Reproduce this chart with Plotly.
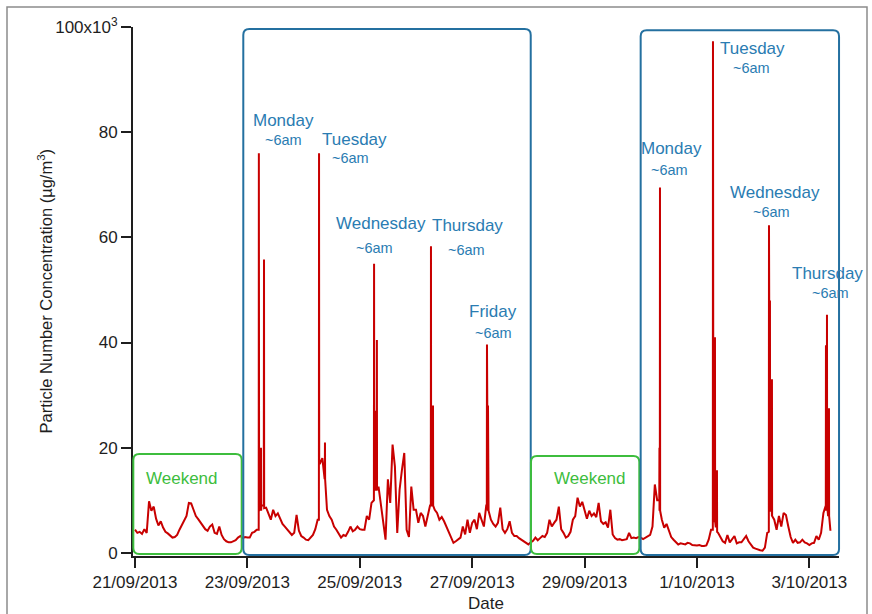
import pandas as pd
import plotly.graph_objects as go

# ---------------- data (particle number concentration, x10^3) ----------------
# hourly background readings, one list per day
start_time = "2013-09-21 00:00"
d21 = [4.4, 3.8, 4.0, 3.6, 4.5, 3.8, 9.8, 8.0, 8.8, 6.5, 5.2, 6.0, 4.8, 4.0, 3.7, 3.3, 2.9, 3.0, 3.4, 4.4, 5.2, 6.0, 7.0, 9.5]
d22 = [9.4, 8.2, 7.0, 6.4, 5.8, 5.0, 4.5, 4.2, 5.0, 5.4, 3.8, 3.6, 5.0, 3.4, 2.6, 2.2, 2.0, 2.0, 2.2, 2.4, 2.9, 3.2, 2.8, 3.0]
d23 = [2.9, 2.9, 3.8, 4.0, 4.4, 8.0, 9.0, 9.0, 8.6, 7.5, 6.3, 8.2, 7.0, 7.5, 6.3, 5.5, 5.0, 4.4, 4.0, 3.4, 3.8, 7.2, 4.2, 3.2]
d24 = [2.9, 2.5, 2.4, 2.9, 3.4, 4.5, 6.3, 17.0, 18.0, 14.0, 8.2, 7.0, 6.3, 5.0, 4.4, 3.6, 2.9, 3.4, 3.2, 4.0, 5.0, 4.1, 4.4, 5.0]
d25 = [4.5, 4.4, 4.4, 7.0, 6.3, 9.5, 10.0, 12.0, 12.6, 9.5, 6.3, 2.5, 14.0, 9.5, 20.6, 16.4, 3.8, 12.0, 15.8, 19.0, 4.4, 3.0, 12.6, 8.2]
d26 = [8.2, 5.7, 7.6, 7.0, 5.0, 7.0, 9.0, 9.0, 8.2, 7.6, 6.3, 6.8, 6.0, 5.0, 4.0, 3.2, 1.9, 2.2, 2.5, 2.9, 5.0, 3.5, 6.3, 3.8]
d27 = [5.7, 6.3, 4.5, 7.6, 6.3, 5.0, 9.0, 8.0, 6.3, 5.5, 5.0, 5.7, 8.6, 4.5, 3.8, 4.5, 6.0, 3.8, 3.2, 3.2, 2.8, 2.5, 2.2, 1.8]
d28 = [1.6, 2.0, 2.3, 2.9, 2.4, 2.8, 3.2, 3.0, 3.8, 6.3, 5.0, 5.7, 6.3, 8.8, 4.5, 3.8, 2.9, 3.2, 4.0, 6.3, 7.0, 10.5, 8.8, 9.7]
d29 = [8.2, 6.5, 8.0, 7.0, 7.5, 6.8, 9.5, 6.0, 5.5, 5.8, 4.8, 8.2, 3.5, 2.8, 2.5, 2.6, 2.4, 2.5, 2.6, 3.8, 2.8, 2.9, 2.8, 3.0]
d30 = [2.9, 2.6, 2.9, 3.2, 3.4, 5.0, 13.0, 10.0, 8.0, 6.3, 4.8, 5.5, 4.0, 3.0, 2.5, 2.0, 1.6, 1.8, 1.7, 1.6, 1.9, 1.8, 1.5, 1.4]
d01 = [1.4, 1.5, 1.3, 1.3, 1.4, 2.5, 4.4, 6.0, 5.0, 3.8, 3.0, 2.2, 1.9, 3.4, 2.0, 2.6, 3.2, 1.8, 2.0, 2.0, 2.5, 3.2, 2.2, 1.6]
d02 = [1.0, 0.8, 0.6, 0.5, 0.4, 1.0, 3.8, 8.0, 7.0, 6.3, 4.4, 7.0, 5.0, 7.6, 7.2, 5.0, 3.0, 1.9, 2.5, 1.9, 2.0, 2.5, 2.0, 1.8]
d03 = [1.5, 1.8, 1.9, 3.2, 2.5, 3.8, 7.6, 9.0, 7.0, 4.2]

# short morning-rush spikes (peak readings with the readings just before/after)
spike_times = [
    "2013-09-23 04:50", "2013-09-23 04:54", "2013-09-23 04:58",
    "2013-09-23 05:44", "2013-09-23 05:48", "2013-09-23 05:52",
    "2013-09-23 07:02", "2013-09-23 07:06", "2013-09-23 07:10",
    "2013-09-24 06:32", "2013-09-24 06:36", "2013-09-24 06:40",
    "2013-09-24 09:04", "2013-09-24 09:08", "2013-09-24 09:12",
    "2013-09-25 06:02", "2013-09-25 06:06", "2013-09-25 06:10",
    "2013-09-25 06:50", "2013-09-25 06:54", "2013-09-25 06:58",
    "2013-09-25 07:14", "2013-09-25 07:18", "2013-09-25 07:22",
    "2013-09-26 06:20", "2013-09-26 06:24", "2013-09-26 06:28",
    "2013-09-26 07:12", "2013-09-26 07:16", "2013-09-26 07:20",
    "2013-09-27 06:15", "2013-09-27 06:19", "2013-09-27 06:23",
    "2013-09-27 06:41", "2013-09-27 06:45", "2013-09-27 06:49",
    "2013-09-30 07:54", "2013-09-30 07:58", "2013-09-30 08:02",
    "2013-09-30 08:08", "2013-09-30 08:12", "2013-09-30 08:16",
    "2013-10-01 06:46", "2013-10-01 06:50", "2013-10-01 06:54",
    "2013-10-01 07:37", "2013-10-01 07:41", "2013-10-01 07:45",
    "2013-10-01 08:28", "2013-10-01 08:32", "2013-10-01 08:36",
    "2013-10-02 06:41", "2013-10-02 06:45", "2013-10-02 06:49",
    "2013-10-02 07:06", "2013-10-02 07:10", "2013-10-02 07:14",
    "2013-10-02 07:57", "2013-10-02 08:01", "2013-10-02 08:05",
    "2013-10-03 07:01", "2013-10-03 07:05", "2013-10-03 07:09",
    "2013-10-03 07:27", "2013-10-03 07:31", "2013-10-03 07:35",
    "2013-10-03 08:18", "2013-10-03 08:22", "2013-10-03 08:26",
]
spike_values = [
    4.4, 76.0, 8.0,
    8.5, 20.0, 8.0,
    9.0, 55.8, 8.5,
    6.3, 76.0, 17.0,
    15.0, 21.0, 14.0,
    10.0, 55.0, 12.0,
    12.0, 27.0, 12.0,
    12.0, 40.5, 12.0,
    9.0, 58.3, 9.0,
    9.0, 28.0, 9.0,
    9.0, 39.6, 8.0,
    8.0, 28.0, 8.0,
    10.0, 20.0, 10.0,
    10.0, 69.5, 8.0,
    4.4, 97.3, 6.0,
    6.0, 41.0, 6.0,
    5.0, 15.7, 4.0,
    4.0, 62.3, 8.0,
    8.0, 48.0, 8.0,
    8.0, 33.0, 7.0,
    8.0, 39.5, 9.0,
    9.0, 45.3, 9.0,
    8.0, 27.5, 7.0,
]

tick_dates = ["2013-09-21", "2013-09-23", "2013-09-25", "2013-09-27", "2013-09-29", "2013-10-01", "2013-10-03"]
tick_labels = ["21/09/2013", "23/09/2013", "25/09/2013", "27/09/2013", "29/09/2013", "1/10/2013", "3/10/2013"]
y_ticks = [0, 20, 40, 60, 80, 100]
y_tick_labels = ["0", "20", "40", "60", "80", "100x10<sup>3</sup>"]

# annotation labels: (text, time, value, kind)
labels = [
    ("Weekend", "2013-09-21 19:56", 14.1, "wk"),
    ("Weekend", "2013-09-29 02:11", 14.1, "wk"),
    ("Monday", "2013-09-23 15:20", 82.2, "day"), ("~6am", "2013-09-23 15:20", 78.6, "am"),
    ("Tuesday", "2013-09-24 21:32", 78.7, "day"), ("~6am", "2013-09-24 20:14", 75.1, "am"),
    ("Wednesday", "2013-09-25 09:11", 62.6, "day"), ("~6am", "2013-09-25 06:22", 58.0, "am"),
    ("Thursday", "2013-09-26 22:05", 62.2, "day"), ("~6am", "2013-09-26 21:39", 57.6, "am"),
    ("Friday", "2013-09-27 08:45", 45.9, "day"), ("~6am", "2013-09-27 09:00", 41.9, "am"),
    ("Monday", "2013-09-30 13:12", 76.9, "day"), ("~6am", "2013-09-30 12:28", 72.9, "am"),
    ("Tuesday", "2013-10-01 23:42", 95.9, "day"), ("~6am", "2013-10-01 23:11", 92.2, "am"),
    ("Wednesday", "2013-10-02 09:19", 68.5, "day"), ("~6am", "2013-10-02 07:37", 64.9, "am"),
    ("Thursday", "2013-10-03 07:49", 53.2, "day"), ("~6am", "2013-10-03 08:49", 49.4, "am"),
]

# highlight boxes: (start, end, bottom, top, kind)
boxes = [
    ("2013-09-20 23:17", "2013-09-22 21:34", -0.2, 18.8, "wk"),
    ("2013-09-22 22:15", "2013-09-28 01:00", -0.4, 99.6, "wd"),
    ("2013-09-28 01:06", "2013-09-29 23:22", -0.2, 18.4, "wk"),
    ("2013-09-29 23:57", "2013-10-03 12:40", -0.4, 99.4, "wd"),
]

# ---------------- layout constants ----------------
W, H = 872, 614
ML, MR, MT, MB = 133, 33, 27, 58
PW, PH = W - ML - MR, H - MT - MB
x_range = [pd.Timestamp("2013-09-20 23:09"), pd.Timestamp("2013-10-03 12:39")]
y_range = [-0.6, 100]

FONT = "Arial, Liberation Sans, Helvetica, sans-serif"
AXIS_COLOR = "#1e1e1e"
RED = "#c80000"
BLUE = "#2470a0"
BLUE_TXT = "#2a7cb2"
GREEN = "#3dbd3d"

values = d21 + d22 + d23 + d24 + d25 + d26 + d27 + d28 + d29 + d30 + d01 + d02 + d03
hourly = pd.Series(values, index=pd.date_range(start_time, periods=len(values), freq="h"))
spikes = pd.Series(spike_values, index=pd.to_datetime(spike_times))
series = pd.concat([hourly, spikes]).sort_index()

fig = go.Figure()
fig.add_trace(go.Scatter(x=series.index, y=series.values, mode="lines",
                         line=dict(color=RED, width=2), hoverinfo="skip", showlegend=False))


def px_x(t):
    t = pd.Timestamp(t)
    return (t - x_range[0]) / (x_range[1] - x_range[0])


def px_y(v):
    return (v - y_range[0]) / (y_range[1] - y_range[0])


def rounded_path(x0, x1, y0, y1, r=6):
    rx, ry = r / PW, r / PH
    return (f"M {x0+rx},{y0} L {x1-rx},{y0} Q {x1},{y0} {x1},{y0+ry} "
            f"L {x1},{y1-ry} Q {x1},{y1} {x1-rx},{y1} L {x0+rx},{y1} "
            f"Q {x0},{y1} {x0},{y1-ry} L {x0},{y0+ry} Q {x0},{y0} {x0+rx},{y0} Z")


shapes = []
for s, e, b, t, kind in boxes:
    shapes.append(dict(type="path", xref="paper", yref="paper",
                       path=rounded_path(px_x(s), px_x(e), px_y(b), px_y(t)),
                       line=dict(color=GREEN if kind == "wk" else BLUE, width=2),
                       fillcolor="rgba(0,0,0,0)", layer="above"))

# outer frame of the figure
shapes.append(dict(type="rect", xref="paper", yref="paper",
                   x0=(7 - ML) / PW, x1=(867 - ML) / PW,
                   y0=(H - MB - 640) / PH, y1=(H - MB - 7) / PH,
                   line=dict(color="#8c8c8c", width=1.5), fillcolor="rgba(0,0,0,0)", layer="below"))

annotations = []
for text, t, v, kind in labels:
    if kind == "wk":
        fnt = dict(family=FONT, size=17, color=GREEN)
    elif kind == "day":
        fnt = dict(family=FONT, size=17, color=BLUE_TXT)
    else:
        fnt = dict(family=FONT, size=14.5, color=BLUE_TXT)
    annotations.append(dict(x=t, y=v, xref="x", yref="y", text=text, showarrow=False,
                            xanchor="center", yanchor="middle", font=fnt, borderpad=0))

annotations.append(dict(x=(45 - ML) / PW, y=0.5, xref="paper", yref="paper",
                        text="Particle Number Concentration (µg/m<sup>3</sup>)",
                        textangle=-90, showarrow=False, xanchor="center", yanchor="middle",
                        font=dict(family=FONT, size=16.5, color=AXIS_COLOR)))
annotations.append(dict(x=0.5, y=(H - MB - 603) / PH, xref="paper", yref="paper", text="Date",
                        showarrow=False, xanchor="center", yanchor="middle",
                        font=dict(family=FONT, size=17, color=AXIS_COLOR)))

fig.update_layout(
    width=W, height=H,
    margin=dict(l=ML, r=MR, t=MT, b=MB, pad=0),
    paper_bgcolor="white", plot_bgcolor="white",
    shapes=shapes, annotations=annotations,
    xaxis=dict(type="date", range=x_range, tickvals=pd.to_datetime(tick_dates), ticktext=tick_labels,
               showgrid=False, zeroline=False, showline=True, linecolor=AXIS_COLOR, linewidth=2,
               ticks="outside", ticklen=10, tickwidth=2, tickcolor=AXIS_COLOR,
               tickfont=dict(family=FONT, size=17, color=AXIS_COLOR)),
    yaxis=dict(range=y_range, tickvals=y_ticks, ticktext=y_tick_labels,
               showgrid=False, zeroline=False, showline=True, linecolor=AXIS_COLOR, linewidth=2,
               ticks="outside", ticklen=10, tickwidth=2, tickcolor=AXIS_COLOR,
               tickfont=dict(family=FONT, size=17, color=AXIS_COLOR)),
)

fig.write_html("out.html")
